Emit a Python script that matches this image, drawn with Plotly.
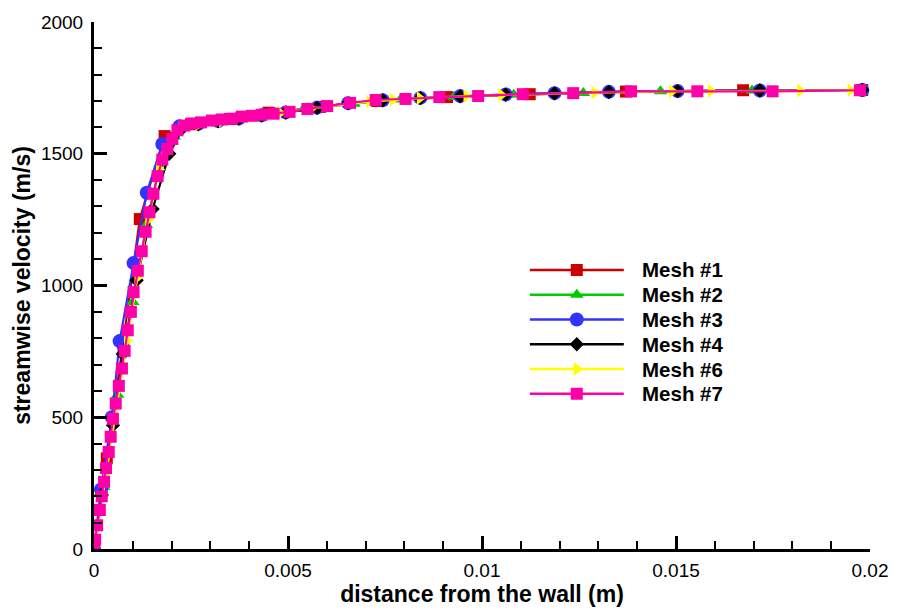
import plotly.graph_objects as go

# ---------------- data (distance from wall [m], streamwise velocity [m/s]) -------------
mesh1_x = [0, 0.00033, 0.00075, 0.00118, 0.00182, 0.00250, 0.00350, 0.0045, 0.00583,
           0.0073, 0.0091, 0.01123, 0.01371, 0.01673, 0.0198]
mesh1_y = [0, 344, 780, 1252, 1567, 1612, 1632, 1656, 1678, 1700, 1715, 1726, 1736, 1741, 1742]

mesh2_x = [0, 0.00025, 0.00061, 0.00100, 0.00135, 0.00170, 0.00207, 0.00251, 0.00315,
           0.00373, 0.00468, 0.0054, 0.0067, 0.0079, 0.00928, 0.01082, 0.01261, 0.0146,
           0.01696, 0.0198]
mesh2_y = [0, 235, 585, 937, 1230, 1460, 1565, 1615, 1628, 1636, 1655, 1670, 1690, 1706,
           1716, 1724, 1731, 1737, 1740, 1742]

mesh3_x = [0, 0.00018, 0.00046, 0.00066, 0.00102, 0.00136, 0.00176, 0.0022, 0.00269,
           0.0032, 0.00373, 0.00432, 0.00494, 0.00575, 0.00655, 0.00744, 0.00841,
           0.00944, 0.01061, 0.01187, 0.01327, 0.01504, 0.01716, 0.0198]
mesh3_y = [0, 226, 500, 789, 1085, 1352, 1537, 1604, 1614, 1624, 1634, 1646, 1657, 1675,
           1692, 1703, 1712, 1719, 1725, 1730, 1735, 1738, 1740, 1742]

mesh4_x = [0, 0.00020, 0.00049, 0.00074, 0.00110, 0.00151, 0.00194, 0.0023, 0.00269,
           0.0032, 0.00373, 0.00432, 0.00494, 0.00575, 0.00655, 0.00744, 0.00841,
           0.00944, 0.01061, 0.01187, 0.01327, 0.01504, 0.01716, 0.0198]
mesh4_y = [0, 205, 470, 740, 1020, 1290, 1500, 1600, 1612, 1623, 1633, 1645, 1656, 1674,
           1691, 1703, 1711, 1718, 1724, 1729, 1734, 1738, 1740, 1742]

mesh6_x = [0, 0.0001, 0.00032, 0.00058, 0.00085, 0.00112, 0.00140, 0.00168, 0.00196,
           0.00225, 0.0027, 0.0033, 0.0040, 0.0048, 0.0056, 0.0071, 0.0077, 0.0084,
           0.0096, 0.0105, 0.0129, 0.0149, 0.0159, 0.0182, 0.0195]
mesh6_y = [0, 80, 290, 540, 790, 1030, 1250, 1440, 1550, 1598, 1612, 1625, 1640, 1655,
           1672, 1698, 1705, 1711, 1719, 1723, 1732, 1737, 1738, 1740, 1741]

mesh7_x = [0, 0.00003, 0.00008, 0.00015, 0.00020, 0.00026, 0.00031, 0.00038, 0.00043,
           0.00049, 0.00056, 0.00064, 0.00072, 0.00079, 0.00087, 0.00095, 0.00102,
           0.00113, 0.00123, 0.00133, 0.00143, 0.00153, 0.00164, 0.00176, 0.00189,
           0.00202, 0.00215, 0.00233, 0.00253, 0.00276, 0.00304, 0.0033, 0.00355,
           0.00381, 0.00407, 0.00432, 0.00463, 0.00504, 0.0055, 0.00601, 0.0066,
           0.00726, 0.00803, 0.0089, 0.0099, 0.01105, 0.01235, 0.01384, 0.01555,
           0.01749, 0.01974]
mesh7_y = [0, 35, 90, 148, 200, 255, 307, 368, 426, 494, 552, 619, 685, 752, 830, 900,
           975, 1056, 1130, 1204, 1278, 1348, 1415, 1478, 1518, 1556, 1589, 1607, 1615,
           1619, 1626, 1630, 1633, 1641, 1644, 1648, 1652, 1659, 1670, 1681, 1693, 1704,
           1708, 1715, 1719, 1726, 1730, 1737, 1737, 1737, 1741]

series_names = ["Mesh #1", "Mesh #2", "Mesh #3", "Mesh #4", "Mesh #6", "Mesh #7"]
x_ticks = [0, 0.005, 0.01, 0.015, 0.02]
x_tick_labels = ["0", "0.005", "0.01", "0.015", "0.02"]
y_ticks = [0, 500, 1000, 1500, 2000]
y_tick_labels = ["0", "500", "1000", "1500", "2000"]

# ---------------- styles ----------------
colors = ["#CC0000", "#00CC00", "#3333FF", "#000000", "#FFFF00", "#FF00A8"]
symbols = ["square", "triangle-up", "circle", "diamond", "triangle-right", "square"]
sizes = [12, 12, 14, 11, 12, 12]
data = [(mesh1_x, mesh1_y), (mesh2_x, mesh2_y), (mesh3_x, mesh3_y),
        (mesh4_x, mesh4_y), (mesh6_x, mesh6_y), (mesh7_x, mesh7_y)]

FONT = "Liberation Sans, Arial, sans-serif"

fig = go.Figure()
for (xs, ys), name, c, s, sz in zip(data, series_names, colors, symbols, sizes):
    fig.add_trace(go.Scatter(
        x=xs, y=ys, name=name, mode="lines+markers",
        line=dict(color=c, width=2.2),
        marker=dict(symbol=s, size=sz, color=c, opacity=1, line=dict(width=0)),
        showlegend=False, xaxis="x", yaxis="y"))

L, R, T, B = 94, 24, 18, 53
W, H = 900, 611
pw, ph = W - L - R, H - T - B

def px_to_dx(px):
    return (px - L) / pw

def py_to_dy(py):
    return (H - B - py) / ph

# ---------------- manual legend (drawn on its own small axes) ----------------
row0, row_step = 272, 25.4
for i, (name, c, s, sz) in enumerate(zip(series_names, colors, symbols, sizes)):
    fig.add_trace(go.Scatter(
        x=[0, 0.5, 1], y=[i, i, i], mode="lines+markers",
        line=dict(color=c, width=2.5),
        marker=dict(symbol=s, size=[0, sz, 0], color=c, opacity=1, line=dict(width=0)),
        showlegend=False, xaxis="x2", yaxis="y2", hoverinfo="skip"))
    fig.add_annotation(x=px_to_dx(644), y=py_to_dy(row0 + row_step * i),
                       xref="paper", yref="paper", text="<b>%s</b>" % name,
                       showarrow=False, xanchor="left", yanchor="middle",
                       font=dict(family=FONT, size=20.5, color="black"))

fig.update_layout(
    width=W, height=H,
    margin=dict(l=L, r=R, t=T, b=B, pad=0),
    paper_bgcolor="white", plot_bgcolor="white",
    font=dict(family=FONT, color="black"),
    showlegend=False,
    xaxis=dict(
        range=[0, 0.02], showgrid=False, zeroline=False,
        showline=True, linecolor="black", linewidth=3,
        ticks="inside", ticklen=13, tickwidth=2.5, tickcolor="black",
        tickvals=x_ticks, ticktext=x_tick_labels,
        tickfont=dict(family=FONT, size=19, color="black"),
        ticklabelstandoff=2,
        minor=dict(ticks="inside", ticklen=8, tickwidth=1.5, tickcolor="black", dtick=0.001),
        title=dict(text="<b>distance from the wall (m)</b>",
                   font=dict(family=FONT, size=23, color="black"), standoff=2),
    ),
    yaxis=dict(
        range=[0, 2000], showgrid=False, zeroline=False,
        showline=True, linecolor="black", linewidth=3,
        ticks="inside", ticklen=13, tickwidth=2.5, tickcolor="black",
        tickvals=y_ticks, ticktext=y_tick_labels,
        tickfont=dict(family=FONT, size=19, color="black"),
        ticklabelstandoff=4,
        minor=dict(ticks="inside", ticklen=8, tickwidth=1.5, tickcolor="black", dtick=100),
        title=dict(text="<b>streamwise velocity (m/s)</b>",
                   font=dict(family=FONT, size=23, color="black"), standoff=4),
    ),
    xaxis2=dict(domain=[px_to_dx(533), px_to_dx(628)], range=[0, 1], visible=False,
                anchor="y2", fixedrange=True),
    yaxis2=dict(domain=[py_to_dy(row0 + 5.5 * row_step), py_to_dy(row0 - 0.5 * row_step)],
                range=[5.5, -0.5], visible=False, anchor="x2", fixedrange=True),
)

fig.write_html("out.html")
